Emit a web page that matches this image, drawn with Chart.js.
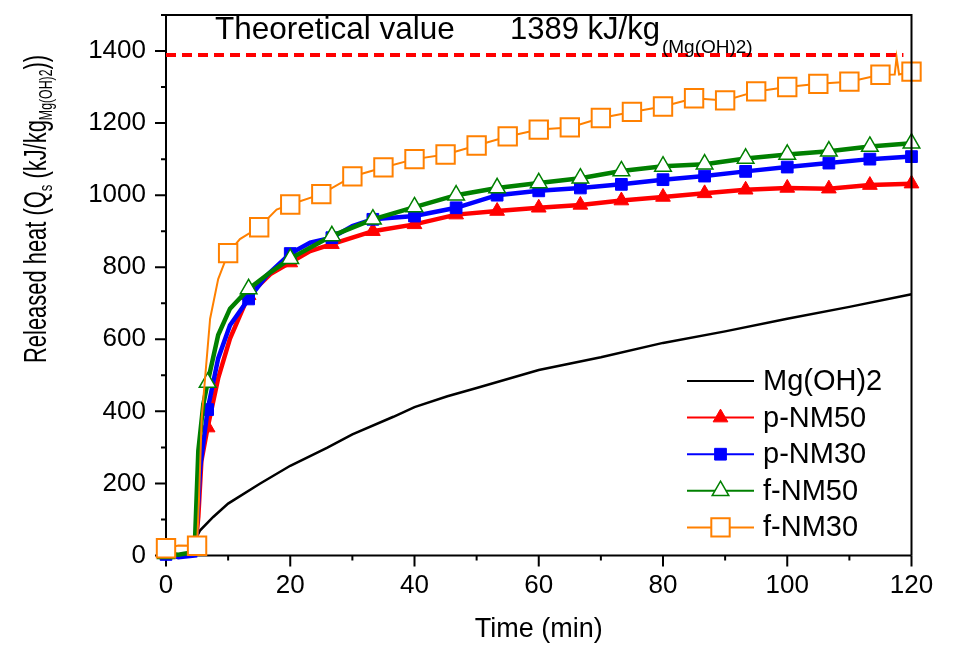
<!DOCTYPE html>
<html>
<head>
<meta charset="utf-8">
<title>Released heat</title>
<script src="https://cdn.jsdelivr.net/npm/chart.js@4.4.1/dist/chart.umd.min.js"></script>
<style>
  html, body { margin: 0; padding: 0; background: #fff; }
  #wrap { width: 953px; height: 650px; position: relative; }
</style>
</head>
<body>
<div id="wrap"><canvas id="chart"></canvas></div>
<script>
// Released heat (kJ/kg Mg(OH)2) against time (min)

const tMg  = [0, 2, 4.6, 4.9, 5.5, 7.6, 10, 15.1, 20, 25.9, 30, 36.6, 40, 45.3, 50, 60, 70, 80, 90, 100, 110, 120];
const qMg  = [3, 0, 3, 50, 70, 107, 144, 199, 249, 299, 336, 385, 412, 442, 465, 515, 550, 590, 622, 657, 690, 725];

const tP50 = [0, 2, 4.6, 5.2, 5.7, 6.7, 8.4, 10.3, 13.3, 16.8, 20, 23.2, 26.7, 30, 33.3, 40, 46.7, 53.3, 60, 66.7, 73.3, 80, 86.7, 93.3, 100, 106.7, 113.3, 120];
const qP50 = [5, 0, 3, 107, 263, 355, 492, 602, 722, 781, 813, 845, 864, 882, 900, 919, 946, 956, 965, 973, 985, 995, 1005, 1015, 1020, 1018, 1028, 1032];

const tP30 = [0, 2, 4.7, 5.5, 6.7, 8.4, 10.3, 13.3, 16.2, 20, 23.2, 26.7, 30, 33.3, 40, 46.7, 53.3, 60, 66.7, 73.3, 80, 86.7, 93.3, 100, 106.7, 113.3, 120];
const qP30 = [3, -5, 0, 244, 405, 547, 639, 712, 777, 838, 868, 882, 914, 933, 942, 965, 1000, 1012, 1020, 1030, 1043, 1053, 1066, 1078, 1089, 1100, 1107];

const tF50 = [0, 2, 4.6, 5.2, 6.0, 6.7, 8.4, 10.3, 13.3, 16.8, 20, 26.7, 33.3, 40, 46.7, 53.3, 60, 66.7, 73.3, 80, 86.7, 93.3, 100, 106.7, 113.3, 120];
const qF50 = [5, 2, 10, 290, 419, 480, 612, 685, 740, 786, 824, 887, 933, 967, 1000, 1020, 1034, 1047, 1067, 1080, 1086, 1102, 1113, 1122, 1135, 1144];

const tF30 = [0, 2, 5, 5.3, 5.75, 7.1, 8.4, 10, 11.9, 15, 17.8, 20, 25, 30, 35, 40, 45, 50, 55, 60, 65, 70, 75, 80, 85, 90, 95, 100, 105, 110, 115, 117.3, 117.6, 118, 120];
const qF30 = [20, 28, 27, 150, 382, 657, 767, 839, 878, 911, 960, 974, 1003, 1052, 1077, 1100, 1113, 1138, 1163, 1182, 1188, 1214, 1231, 1246, 1269, 1263, 1288, 1300, 1309, 1315, 1334, 1335, 1383, 1335, 1343];

// where the symbols sit
const marksThird = [0, 6.7, 13.3, 20, 26.7, 33.3, 40, 46.7, 53.3, 60, 66.7, 73.3, 80, 86.7, 93.3, 100, 106.7, 113.3, 120];
const marksFive  = [0, 5, 10, 15, 20, 25, 30, 35, 40, 45, 50, 55, 60, 65, 70, 75, 80, 85, 90, 95, 100, 105, 110, 115, 120];

// theoretical value line
const theoT = [0, 118.7];
const theoQ = [1389, 1389];

const xTicks = [0, 20, 40, 60, 80, 100, 120];
const yTicks = [0, 200, 400, 600, 800, 1000, 1200, 1400];

const FONT = 'Arial, "Liberation Sans", sans-serif';

function pts(t, q) {
    return t.map((x, i) => ({ x: x, y: q[i] }));
}

function series(label, t, q, color, width, marks, style, radius, fill, bw, order) {
    return {
        label: label,
        data: pts(t, q),
        borderColor: color,
        borderWidth: width,
        backgroundColor: fill,
        pointBackgroundColor: fill,
        pointBorderColor: color,
        pointBorderWidth: bw,
        pointStyle: style || false,
        pointRadius: (ctx) => (marks && ctx.raw && marks.includes(ctx.raw.x)) ? radius : 0,
        tension: 0,
        clip: 16,
        order: order,
        inLegend: true,
        mark: { style: style, radius: radius, fill: fill, bw: bw }
    };
}

const datasets = [
    series('Mg(OH)2', tMg, qMg, '#000000', 2.5, null, null, 0, '#000000', 0, 4),
    series('p-NM50', tP50, qP50, '#ff0000', 4.5, marksThird, 'triangle', 8.5, '#ff0000', 1, 3),
    series('p-NM30', tP30, qP30, '#0000ff', 4.5, marksThird, 'rect', 8.3, '#0000ff', 1, 2),
    series('f-NM50', tF50, qF50, '#008000', 4.5, marksThird, 'triangle', 9.6, '#ffffff', 1.5, 1),
    series('f-NM30', tF30, qF30, '#ff8000', 2, marksFive, 'rect', 13, '#ffffff', 2, 0),
    {
        label: 'theoretical',
        data: pts(theoT, theoQ),
        borderColor: '#ff0000',
        borderWidth: 4,
        borderDash: [10, 6],
        pointRadius: 0,
        order: 5
    }
];

function drawMarker(ctx, m, x, y, color) {
    if (!m.style || m.radius <= 0) return;
    const r = m.radius;
    ctx.beginPath();
    if (m.style === 'triangle') {
        ctx.moveTo(x, y - r);
        ctx.lineTo(x + r * 0.866, y + r / 2);
        ctx.lineTo(x - r * 0.866, y + r / 2);
        ctx.closePath();
    } else {
        const s = r * Math.SQRT1_2;
        ctx.rect(x - s, y - s, 2 * s, 2 * s);
    }
    ctx.fillStyle = m.fill;
    ctx.fill();
    if (m.bw > 0) {
        ctx.lineWidth = m.bw;
        ctx.strokeStyle = color;
        ctx.stroke();
    }
}

// left/bottom axes under the data, top/right frame on top
const frame = {
    id: 'frame',
    beforeDatasetsDraw(chart) {
        const { ctx, chartArea: a } = chart;
        ctx.save();
        ctx.strokeStyle = '#000';
        ctx.lineWidth = 2;
        ctx.beginPath();
        ctx.moveTo(a.left, a.top);
        ctx.lineTo(a.left, a.bottom);
        ctx.lineTo(a.right, a.bottom);
        ctx.stroke();

        const xs = chart.scales.x, ys = chart.scales.y;
        ctx.beginPath();
        for (let v = 0; v <= 1500; v += 100) {
            const y = ys.getPixelForValue(v);
            const len = v % 200 === 0 ? 11 : 5;
            ctx.moveTo(a.left, y);
            ctx.lineTo(a.left - len, y);
        }
        for (let v = 0; v <= 120; v += 10) {
            const x = xs.getPixelForValue(v);
            const len = v % 20 === 0 ? 11 : 5;
            ctx.moveTo(x, a.bottom);
            ctx.lineTo(x, a.bottom + len);
        }
        ctx.stroke();
        ctx.restore();
    },
    afterDatasetsDraw(chart) {
        const { ctx, chartArea: a } = chart;
        ctx.save();
        ctx.strokeStyle = '#000';
        ctx.lineWidth = 2;
        ctx.beginPath();
        ctx.moveTo(a.left, a.top);
        ctx.lineTo(a.right, a.top);
        ctx.lineTo(a.right, a.bottom);
        ctx.stroke();
        ctx.restore();
    }
};

const texts = {
    id: 'texts',
    afterDraw(chart) {
        const { ctx, chartArea: a } = chart;
        ctx.save();
        ctx.fillStyle = '#000';
        ctx.textBaseline = 'alphabetic';
        ctx.textAlign = 'left';

        // theoretical value note
        ctx.font = '31.5px ' + FONT;
        ctx.fillText('Theoretical value', 215, 39);
        ctx.font = '31px ' + FONT;
        ctx.fillText('1389 kJ/kg', 510, 39);
        const w1 = ctx.measureText('1389 kJ/kg').width;
        ctx.font = '19px ' + FONT;
        ctx.fillText('(Mg(OH)2)', 510 + w1 + 2, 53);

        // x title
        ctx.font = '27px ' + FONT;
        ctx.textAlign = 'center';
        ctx.fillText('Time (min)', (a.left + a.right) / 2, 637);

        // y title, condensed along the text
        ctx.textAlign = 'left';
        ctx.translate(46, 363);
        ctx.rotate(-Math.PI / 2);
        ctx.scale(0.685, 1);
        const parts = [
            ['Released heat (Q', 32, 0],
            ['s', 19, 6],
            [' (kJ/kg', 32, 0],
            ['Mg(OH)2', 18, 6],
            ['))', 32, 0]
        ];
        let u = 0;
        parts.forEach(p => {
            ctx.font = p[1] + 'px ' + FONT;
            ctx.fillText(p[0], u, p[2]);
            u += ctx.measureText(p[0]).width;
        });
        ctx.restore();

        // legend
        ctx.save();
        const lx = 687, len = 67, tx = 763, y0 = 381, dy = 36.6;
        let row = 0;
        chart.data.datasets.forEach(ds => {
            if (!ds.inLegend) return;
            const y = y0 + row * dy;
            ctx.strokeStyle = ds.borderColor;
            ctx.lineWidth = 2;
            ctx.beginPath();
            ctx.moveTo(lx, y);
            ctx.lineTo(lx + len, y);
            ctx.stroke();
            drawMarker(ctx, ds.mark, lx + len / 2, y, ds.borderColor);
            ctx.fillStyle = '#000';
            ctx.font = '29px ' + FONT;
            ctx.textBaseline = 'middle';
            ctx.fillText(ds.label, tx, y + 1);
            row++;
        });
        ctx.restore();
    }
};

function noPad(s) {
    s.paddingTop = 0;
    s.paddingBottom = 0;
    s.paddingLeft = 0;
    s.paddingRight = 0;
}

new Chart(document.getElementById('chart'), {
    type: 'line',
    data: { datasets: datasets },
    options: {
        responsive: true,
        maintainAspectRatio: false,
        animation: false,
        events: [],
        layout: { padding: { top: 10.5, right: 41.5, left: 0, bottom: 0 } },
        plugins: {
            legend: { display: false },
            tooltip: { enabled: false }
        },
        scales: {
            x: {
                type: 'linear',
                min: 0,
                max: 120,
                afterFit: (s) => { s.height = 94.5; noPad(s); },
                afterBuildTicks: (s) => { s.ticks = xTicks.map(v => ({ value: v })); },
                grid: { display: false, drawTicks: false },
                border: { display: false },
                ticks: {
                    padding: 15,
                    color: '#000',
                    font: { family: FONT, size: 26 },
                    maxRotation: 0,
                    callback: (v) => String(v)
                }
            },
            y: {
                type: 'linear',
                min: 0,
                max: 1500,
                afterFit: (s) => { s.width = 166; noPad(s); },
                afterBuildTicks: (s) => { s.ticks = yTicks.map(v => ({ value: v })); },
                grid: { display: false, drawTicks: false },
                border: { display: false },
                ticks: {
                    padding: 20,
                    color: '#000',
                    font: { family: FONT, size: 26 },
                    callback: (v) => String(v)
                }
            }
        }
    },
    plugins: [frame, texts]
});
</script>
</body>
</html>
